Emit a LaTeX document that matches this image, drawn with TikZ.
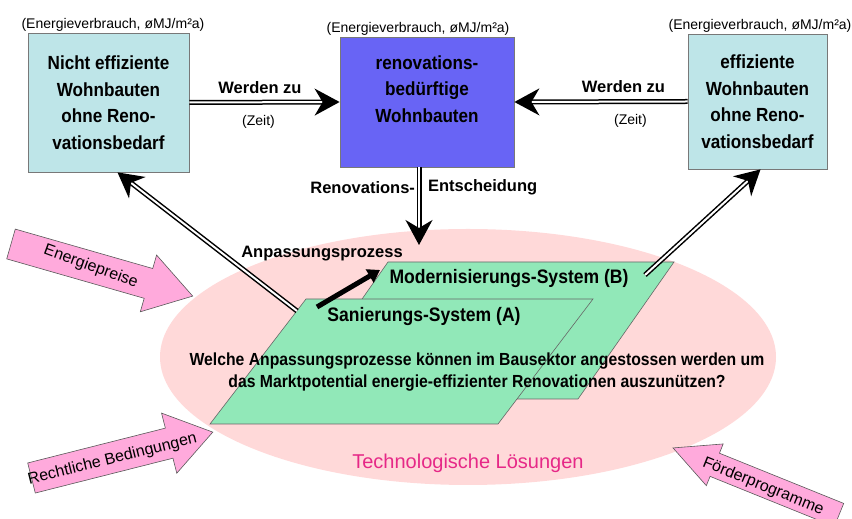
\documentclass[tikz,border=0pt]{standalone}
\usepackage{fontspec}
\setmainfont{Liberation Sans}
\newfontfamily\narrowfont[FakeStretch=0.9]{Liberation Sans}
\usetikzlibrary{arrows.meta,positioning,calc}

\definecolor{boxcyan}{RGB}{190,229,232}
\definecolor{boxblue}{RGB}{104,100,245}
\definecolor{sysgreen}{RGB}{145,232,184}
\definecolor{ellpink}{RGB}{255,217,217}
\definecolor{arrowpink}{RGB}{255,170,220}
\definecolor{techpink}{RGB}{230,40,135}
\definecolor{edgegray}{RGB}{120,120,120}

\tikzset{
  housebox/.style={draw=edgegray, line width=0.8pt, align=center, inner sep=0pt,
    font=\narrowfont\bfseries\fontsize{19}{26.5}\selectfont},
  unitlabel/.style={font=\fontsize{14}{16}\selectfont, inner sep=1pt},
  flowlabel/.style={font=\bfseries\fontsize{16.5}{19}\selectfont},
  zeitlabel/.style={font=\fontsize{14}{16}\selectfont},
  dblarrow/.style={double, double distance=2pt, line width=1.5pt,
    -{Stealth[length=25pt,width=27pt,inset=8pt]}},
  sysshape/.style={fill=sysgreen, draw=gray!80!black, line width=0.6pt},
  syslabel/.style={font=\narrowfont\bfseries\fontsize{19.5}{22}\selectfont},
  questext/.style={align=center, font=\narrowfont\bfseries\fontsize{17.5}{22}\selectfont},
  techlabel/.style={text=techpink, font=\fontsize{20}{24}\selectfont},
  pinkarrow/.style={fill=arrowpink, draw=gray!70!black, line width=0.6pt},
  pinklabel/.style={font=\fontsize{16}{18}\selectfont, inner sep=0pt}
}

\begin{document}
\begin{tikzpicture}[x=1pt,y=1pt]
\useasboundingbox (0,0) rectangle (852,519);
\clip (0,0) rectangle (852,519);

% background ellipse
\fill[ellpink] (468,162) ellipse [x radius=308, y radius=128];
\node[techlabel] (techloes) at (468,56) {Technologische Lösungen};

% the three building stocks
\node[housebox, fill=boxcyan, minimum width=161pt, minimum height=139pt,
  label={[unitlabel, xshift=4.5pt]above:(Energieverbrauch, øMJ/m²a)}]
  (nichteff) at (108.5,416.5) {Nicht effiziente\\Wohnbauten\\ohne Reno-\\vationsbedarf};
\node[housebox, fill=boxblue, minimum width=174pt, minimum height=130pt,
  label={[unitlabel, xshift=-9pt]above:(Energieverbrauch, øMJ/m²a)}]
  (renbed) at (427,417) {renovations-\\bedürftige\\Wohnbauten\\\mbox{}};
\node[housebox, fill=boxcyan, minimum width=139pt, minimum height=135pt,
  label={[unitlabel, xshift=2.5pt]above:(Energieverbrauch, øMJ/m²a)}]
  (eff) at (757.5,417.5) {effiziente\\Wohnbauten\\ohne Reno-\\vationsbedarf};

\draw[dblarrow] (nichteff.east) --
  node[flowlabel, pos=0.47, above=5pt] (werden1) {Werden zu}
  node[zeitlabel, pos=0.46, below=9pt] (zeit1) {(Zeit)} (renbed.west);
\draw[dblarrow] (eff.west) --
  node[flowlabel, pos=0.37, above=5pt] (werden2) {Werden zu}
  node[zeitlabel, pos=0.33, below=9pt] (zeit2) {(Zeit)} (renbed.east);

% systems
\draw[sysshape] (292,120) -- (578,120) -- (674,257) -- (388,257) -- cycle;
\draw[sysshape] (210,95) -- (498,95) -- (593,220) -- (306,220) -- cycle;
\node[syslabel] (modsys) at (509,240) {Modernisierungs-System (B)};
\node[syslabel] (sansys) at (424,202) {Sanierungs-System (A)};
\node[questext] (frage) at (477,147) {Welche Anpassungsprozesse können im Bausektor angestossen werden um\\das Marktpotential energie-effizienter Renovationen auszunützen?};

\coordinate (decide) at (419,274);
\draw[dblarrow] ([xshift=-8pt]renbed.south) --
  node[flowlabel, pos=0.26, left=0pt] (renov) {Renovations-}
  node[flowlabel, pos=0.26, right=5pt] (entsch) {Entscheidung} (decide);

\node[flowlabel] (anpass) at (322,265) {Anpassungsprozess};
\coordinate (anpStart) at (317,212);
\coordinate (anpEnd) at (380,249);
\draw[line width=5pt, -{Triangle[length=12pt,width=15pt]}] (anpStart) -- (anpEnd);

\coordinate (aCorner) at (297,208);
\coordinate (bCorner) at (645,244);
\draw[dblarrow] (aCorner) -- ([xshift=9pt]nichteff.south);
\draw[dblarrow] (bCorner) -- ([xshift=3pt]eff.south);

% outside influences
\begin{scope}[shift={(11,275)}, rotate=-16]
\draw[pinkarrow] (0,-15.5) -- (143,-15.5) -- (143,-29.5) -- (189,0)
  -- (143,29.5) -- (143,15.5) -- (0,15.5) -- cycle;
\node[pinklabel, rotate=-20] (epreis) at (83,0) {Energiepreise};
\end{scope}

\begin{scope}[shift={(31.5,41)}, rotate=14.2]
\draw[pinkarrow] (0,-15.5) -- (142,-15.5) -- (142,-31) -- (187,0)
  -- (142,31) -- (142,15.5) -- (0,15.5) -- cycle;
\node[pinklabel, rotate=14] (recht) at (83,-2) {Rechtliche Bedingungen};
\end{scope}

\begin{scope}[shift={(839,4)}, rotate=158]
\draw[pinkarrow] (0,-12.5) -- (134,-12.5) -- (134,-22.5) -- (179,0)
  -- (134,22.5) -- (134,12.5) -- (0,12.5) -- cycle;
\node[pinklabel, rotate=-22] (foerder) at (81,2) {Förderprogramme};
\end{scope}
\end{tikzpicture}
\end{document}
